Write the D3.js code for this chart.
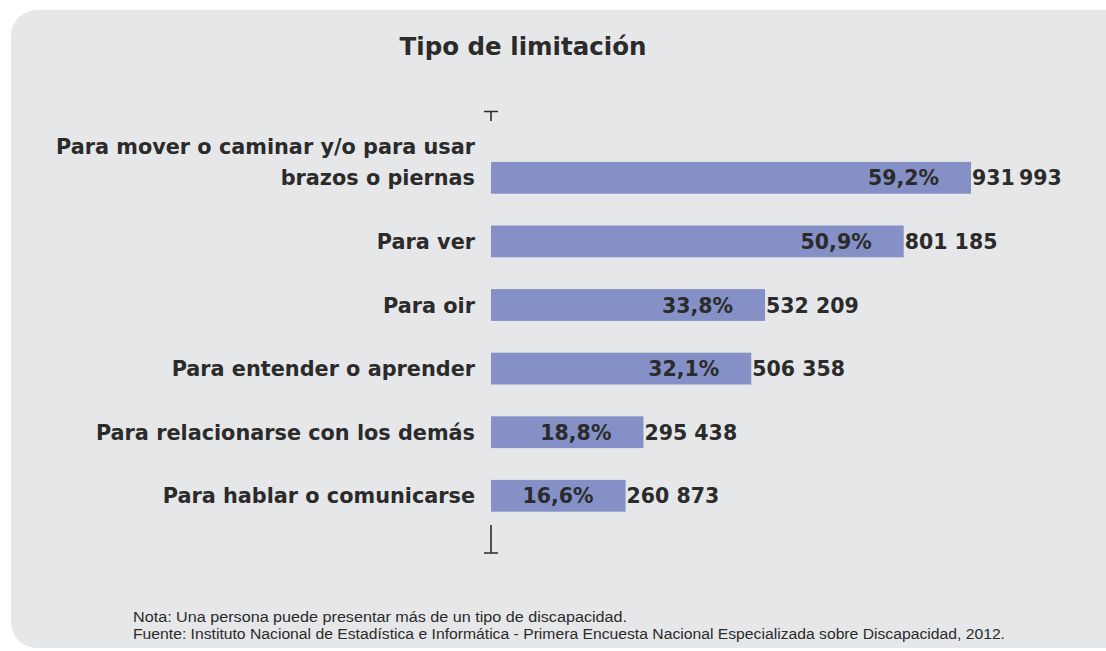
<!DOCTYPE html>
<html><head><meta charset="utf-8">
<script src="https://cdn.jsdelivr.net/npm/d3@7"></script>
<style>body{margin:0;background:#fff;} svg{display:block;}</style>
</head><body>
<svg id="c" width="1106" height="651"></svg>
<script>
const categories = [
  ["Para mover o caminar y/o para usar", "brazos o piernas"],
  ["Para ver"],
  ["Para oir"],
  ["Para entender o aprender"],
  ["Para relacionarse con los demás"],
  ["Para hablar o comunicarse"]
];
const percents = [59.2, 50.9, 33.8, 32.1, 18.8, 16.6];
const counts = ["931\u202F993", "801 185", "532 209", "506 358", "295 438", "260 873"];
const title = "Tipo de limitación";
const notes = [
  "Nota: Una persona puede presentar más de un tipo de discapacidad.",
  "Fuente: Instituto Nacional de Estadística e Informática - Primera Encuesta Nacional Especializada sobre Discapacidad, 2012."
];

const svg = d3.select("#c");
const font = "'DejaVu Sans', Verdana, sans-serif";
const ink = "#2b2b2b";

svg.append("rect").attr("x", 11).attr("y", 10).attr("width", 1120).attr("height", 638)
  .attr("rx", 26).attr("fill", "#e6e7e8");

svg.append("text").attr("x", 523).attr("y", 55).attr("text-anchor", "middle")
  .attr("font-family", font).attr("font-weight", "bold").attr("font-size", 24.5)
  .attr("fill", ink).text(title);

const x0 = 491;
const x = d3.scaleLinear().domain([0, 59.2]).range([x0, 971]);
const idx = d3.range(categories.length);
const y = d3.scaleBand().domain(idx).range([146, 527.6]).paddingInner(0.5).paddingOuter(0.25);

const g = svg.append("g");
g.selectAll("rect.bar").data(idx).join("rect").attr("class", "bar")
  .attr("x", x0).attr("y", i => y(i)).attr("width", i => x(percents[i]) - x0)
  .attr("height", y.bandwidth()).attr("fill", "#8591c6");

g.selectAll("text.pct").data(idx).join("text").attr("class", "pct")
  .attr("x", i => x(percents[i]) - 32).attr("y", i => y(i) + y.bandwidth() / 2 + 7.5)
  .attr("text-anchor", "end").attr("font-family", font).attr("font-weight", "bold")
  .attr("font-size", 20.5).attr("fill", ink)
  .text(i => d3.format(".1f")(percents[i]).replace(".", ",") + "%");

g.selectAll("text.cnt").data(idx).join("text").attr("class", "cnt")
  .attr("x", i => x(percents[i]) + 1).attr("y", i => y(i) + y.bandwidth() / 2 + 7.5)
  .attr("font-family", font).attr("font-weight", "bold")
  .attr("font-size", 20.5).attr("fill", ink).text(i => counts[i]);

idx.forEach(i => {
  const lines = categories[i];
  const cy = y(i) + y.bandwidth() / 2;
  const t = g.append("text").attr("text-anchor", "end").attr("font-family", font)
    .attr("font-weight", "bold").attr("font-size", 20.8).attr("fill", ink);
  lines.forEach((l, k) => {
    const yy = cy + 7.5 - (lines.length - 1 - k) * 31;
    t.append("tspan").attr("x", 475).attr("y", yy).text(l);
  });
});

// axis end marks
const ax = svg.append("g").attr("stroke", ink).attr("stroke-width", 1.6).attr("fill", "none");
ax.append("path").attr("d", `M${x0 - 7},111.5H${x0 + 7}M${x0},111.5V121`);
ax.append("path").attr("d", `M${x0},525V553H${x0 - 7}H${x0 + 7}`);

notes.forEach((n, k) => {
  svg.append("text").attr("x", 133).attr("y", 622 + k * 17)
    .attr("font-family", "'Liberation Sans Narrow', 'Liberation Sans', Arial, sans-serif")
    .attr("font-size", 14).attr("fill", ink)
    .attr("textLength", k === 0 ? 494 : 872).attr("lengthAdjust", "spacingAndGlyphs")
    .text(n);
});
</script>
</body></html>
